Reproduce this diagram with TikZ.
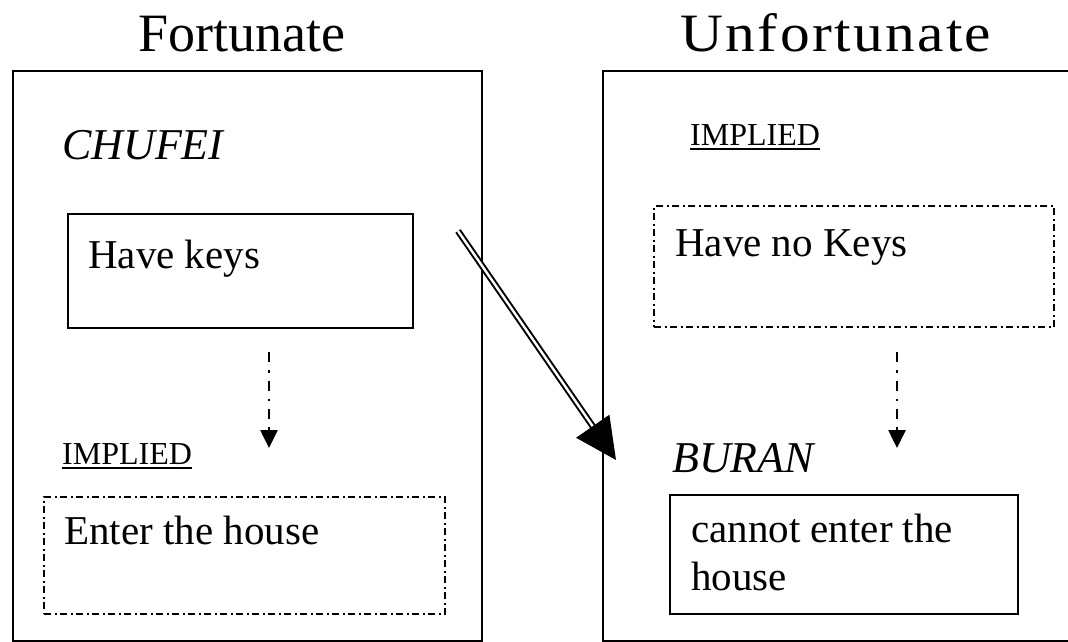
\documentclass[tikz,border=0pt]{standalone}
\usepackage{fontspec}
\setmainfont{Liberation Serif}
\usetikzlibrary{arrows.meta}

\begin{document}
\begin{tikzpicture}[x=1pt,y=-1pt,
  frame/.style={draw, line width=2.2pt, inner sep=0pt, anchor=north west},
  solidbox/.style={draw, line width=2pt, inner sep=0pt, anchor=north west},
  dotbox/.style={draw, line width=2.2pt, dash pattern=on 7pt off 3.5pt on 2pt off 3.5pt,
                 inner sep=0pt, anchor=north west},
  title/.style={font=\fontsize{54}{60}\selectfont, anchor=base, inner sep=0pt},
  body/.style={font=\fontsize{41}{48}\selectfont, anchor=base west, inner sep=0pt, align=left},
  agent/.style={font=\fontsize{44}{50}\selectfont\itshape, anchor=base west, inner sep=0pt},
  tag/.style={font=\fontsize{32}{36}\selectfont, anchor=base west, inner sep=0pt},
  implies/.style={line width=2.6pt, dash pattern=on 10pt off 8pt on 2.5pt off 8pt,
                  -{Triangle[width=17pt,length=18pt]}},
  leads/.style={double, double distance=2.4pt, line width=2pt,
                -{Triangle[width=40pt,length=41pt]}}
]
\useasboundingbox (0,0) rectangle (1068,642);
\clip (0,0) rectangle (1068,642);
\fill[white] (0,0) rectangle (1068,642);

% column headings
\node[title] (hfort) at (242,52) {Fortunate};
\node[title] (hunf) at (836,52) {\scalebox{1.1}[1]{\addfontfeature{LetterSpace=4}Unfortunate}};

% outer frames
\node[frame, minimum width=469pt, minimum height=570pt] (left) at (12,70) {};
\node[frame, minimum width=480pt, minimum height=570pt] (right) at (602,70) {};

% left column
\node[agent] (chufei) at (62,159) {CHUFEI};
\node[solidbox, minimum width=345pt, minimum height=114pt] (keys) at (67,213) {};
\node[body] (keystxt) at (88,268) {Have keys};
\node[tag] (implL) at (62,464) {IMPLIED};
\draw[line width=1.8pt] ([yshift=-4pt]implL.base west) -- ([yshift=-4pt]implL.base east);
\node[dotbox, minimum width=401pt, minimum height=117pt] (enter) at (43,496) {};
\node[body] (entertxt) at (64,544) {Enter the house};

% right column
\node[tag] (implR) at (690,145) {IMPLIED};
\draw[line width=1.8pt] ([yshift=-4pt]implR.base west) -- ([yshift=-4pt]implR.base east);
\node[dotbox, minimum width=400pt, minimum height=121pt] (nokeys) at (653,205) {};
\node[body] (nokeystxt) at (675,256) {Have no Keys};
\node[agent] (buran) at (672,472) {BURAN};
\node[solidbox, minimum width=348pt, minimum height=119pt] (cannot) at (669,494) {};
\node[body] (cannottxt) at (691,590) {cannot enter the\\house};

% implications
\coordinate (iLs) at (269,352);
\coordinate (iLe) at (269,448);
\coordinate (iRs) at (897,352);
\coordinate (iRe) at (897,448);
\draw[implies] (iLs) -- (iLe);
\draw[implies] (iRs) -- (iRe);

% cross arrow
\coordinate (xs) at (458,231);
\coordinate (xe) at (616,460);
\draw[leads] (xs) -- (xe);
\end{tikzpicture}
\end{document}
